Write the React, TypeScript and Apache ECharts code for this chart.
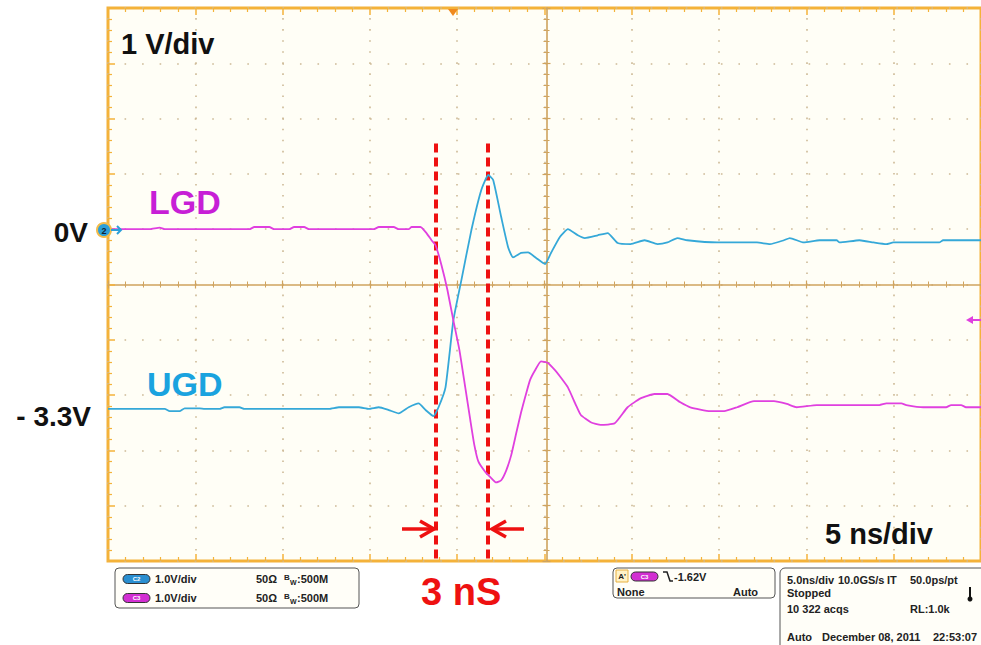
import React, { useEffect, useRef } from "react";
import * as echarts from "echarts";

// Axis ranges (time in ns, 5 ns/div; voltage in V, 1 V/div)
const X_MIN = 0;
const X_MAX = 50;
const X_DIV = 5;
const Y_MIN = -6;
const Y_MAX = 4;
const Y_DIV = 1;

// LGD trace (magenta): [time ns, volts]
const lgdPoints: [number, number][] = [
  [0, 0], [2.39, 0], [2.96, 0.03], [3.25, 0], [8.1, 0], [8.38, 0.04], [9.24, 0.04], [9.52, 0],
  [10.38, 0], [10.66, 0.04], [11.23, 0.04], [11.52, 0], [15.22, 0], [15.51, 0.04], [16.36, 0.04],
  [16.65, 0], [17.22, 0], [17.39, 0.04], [17.9, 0.04], [18.24, -0.07], [18.53, -0.2], [18.76, -0.29],
  [19.1, -0.65], [19.44, -1.1], [19.78, -1.65], [20.13, -2.19], [20.47, -2.88], [20.75, -3.45],
  [20.98, -3.9], [21.21, -4.2], [21.61, -4.39], [21.95, -4.5], [22.23, -4.58], [22.52, -4.54],
  [22.81, -4.36], [23.09, -4.09], [23.38, -3.69], [23.66, -3.31], [23.89, -3.04], [24.17, -2.73],
  [24.46, -2.55], [24.8, -2.39], [25.2, -2.42], [25.6, -2.55], [25.88, -2.66], [26.34, -2.86],
  [26.8, -3.18], [27.08, -3.36], [27.65, -3.49], [28.22, -3.54], [29.02, -3.51], [29.76, -3.22],
  [30.5, -3.06], [31.3, -2.98], [32.04, -2.98], [32.78, -3.13], [33.35, -3.22], [34.49, -3.29],
  [35.29, -3.29], [36.03, -3.22], [37.0, -3.11], [38.14, -3.11], [38.88, -3.16], [39.45, -3.22],
  [40.59, -3.18], [44.18, -3.18], [44.58, -3.15], [45.44, -3.15], [45.72, -3.18], [46.69, -3.22],
  [48.0, -3.22], [48.29, -3.18], [48.86, -3.18], [49.14, -3.22], [50, -3.22],
];

// UGD trace (blue): [time ns, volts]
const ugdPoints: [number, number][] = [
  [0, -3.25], [3.25, -3.25], [3.53, -3.29], [4.1, -3.29], [4.39, -3.24], [5.25, -3.24], [5.53, -3.25],
  [6.39, -3.25], [6.67, -3.22], [7.53, -3.22], [7.81, -3.25], [12.66, -3.25], [13.23, -3.22],
  [14.37, -3.22], [14.94, -3.25], [15.51, -3.22], [16.08, -3.27], [16.65, -3.33], [17.22, -3.22],
  [17.79, -3.15], [18.19, -3.27], [18.64, -3.38], [18.93, -3.22], [19.33, -2.86], [19.78, -1.65],
  [20.24, -0.92], [20.81, -0.02], [21.38, 0.71], [21.78, 0.98], [22.06, 0.89], [22.52, 0.22],
  [22.92, -0.33], [23.2, -0.51], [23.66, -0.43], [24.06, -0.42], [24.52, -0.52], [25.03, -0.63],
  [25.37, -0.43], [25.88, -0.14], [26.34, 0], [26.91, -0.11], [27.31, -0.16], [28.05, -0.11],
  [28.62, -0.07], [29.19, -0.25], [29.93, -0.27], [30.73, -0.2], [31.47, -0.27], [32.04, -0.24],
  [32.61, -0.16], [33.18, -0.2], [34.89, -0.24], [37.17, -0.24], [37.91, -0.27], [38.71, -0.2],
  [39.05, -0.16], [39.85, -0.24], [40.76, -0.2], [41.73, -0.2], [41.9, -0.24], [43.04, -0.2],
  [43.84, -0.24], [44.58, -0.27], [44.98, -0.24], [47.61, -0.24], [47.83, -0.2], [50, -0.2],
];

// Timing cursors (ns) and their vertical extent (V)
const cursorTimes = [18.76, 21.75];
const cursorTop = 1.55;

// Center of the graticule
const centerTime = 25;
const centerVolt = -1;

const FONT = '"Liberation Sans", Arial, Helvetica, sans-serif';

const ORANGE = "#F4B23A";
const TAN = "#CFA35E";
const DOT = "#CDB996";
const LGD_COLOR = "#E040DF";
const UGD_COLOR = "#35A8D8";
const INFO = 11;

function App() {
  const ref = useRef<HTMLDivElement>(null);

  useEffect(() => {
    if (!ref.current) return;
    const chart = echarts.init(ref.current, null, { renderer: "svg" });

    const gridLeft = 108;
    const gridTop = 8;
    const gridW = 877;
    const gridH = 553;
    const centerOffsetY = -(gridH * (centerVolt - Y_MIN)) / (Y_MAX - Y_MIN);
    const centerOffsetX = -(gridW * (centerTime - X_MIN)) / (X_MAX - X_MIN);

    const baseX = {
      type: "value" as const,
      min: X_MIN,
      max: X_MAX,
      interval: X_DIV,
      axisLabel: { show: false },
      splitLine: { show: false },
    };
    const baseY = {
      type: "value" as const,
      min: Y_MIN,
      max: Y_MAX,
      interval: Y_DIV,
      axisLabel: { show: false },
      splitLine: { show: false },
    };

    const text = (t: string, x: number, y: number, size: number, fill: string, align = "left", weight = "bold") => ({
      type: "text",
      x,
      y,
      z: 100,
      style: {
        text: t,
        fill,
        font: `${weight} ${size}px ${FONT}`,
        textAlign: align,
        textVerticalAlign: "middle",
      },
    });

    const pill = (x: number, y: number, fill: string, label: string) => [
      {
        type: "rect",
        z: 100,
        shape: { x, y, width: 27, height: 9, r: 4.5 },
        style: { fill, stroke: "#333", lineWidth: 1 },
      },
      text(label, x + 13.5, y + 4.8, 6, "#fff", "center"),
    ];

    const bw = (x: number, y: number) => [
      text("B", x, y - 2, 8, "#222"),
      text("W", x + 6, y + 3, 7, "#222"),
      text(":500M", x + 13, y, INFO, "#222"),
    ];

    const graphics: any[] = [
      // trigger marker
      { type: "polygon", z: 100, shape: { points: [[448, 9], [458, 9], [453, 16]] }, style: { fill: "#F08A1E" } },
      // channel 2 ground marker
      { type: "circle", z: 100, shape: { cx: 104, cy: 230, r: 7 }, style: { fill: "#2B9FD9", stroke: "#F2BB4B", lineWidth: 2 } },
      text("2", 104, 230.5, 9, "#123", "center"),
      { type: "line", z: 100, shape: { x1: 111, y1: 230, x2: 121, y2: 230 }, style: { stroke: "#2B9FD9", lineWidth: 2 } },
      { type: "polyline", z: 100, shape: { points: [[117, 226], [121, 230], [117, 234]] }, style: { stroke: "#2B9FD9", lineWidth: 2, fill: "none" } },
      // channel 3 offscreen marker (right)
      { type: "line", z: 100, shape: { x1: 968, y1: 320, x2: 985, y2: 320 }, style: { stroke: LGD_COLOR, lineWidth: 2 } },
      { type: "polygon", z: 100, shape: { points: [[966, 320], [973, 316], [973, 324]] }, style: { fill: LGD_COLOR } },

      // labels
      text("1 V/div", 121, 44, 29, "#111"),
      text("LGD", 149, 202, 34, "#C71FD6"),
      text("UGD", 147, 384, 34, "#1AA3DF"),
      text("0V", 88, 232, 28, "#111", "right"),
      text("- 3.3V", 91, 416, 28, "#111", "right"),
      text("5 ns/div", 825, 534, 29, "#111"),
      text("3 nS", 421, 592, 38, "#EE1111"),

      // red arrows
      { type: "line", z: 100, shape: { x1: 402, y1: 529, x2: 433, y2: 529 }, style: { stroke: "#EE1111", lineWidth: 3.5 } },
      { type: "polyline", z: 100, shape: { points: [[420, 521], [434, 529], [420, 537]] }, style: { stroke: "#EE1111", lineWidth: 3.5, fill: "none" } },
      { type: "line", z: 100, shape: { x1: 524, y1: 529, x2: 493, y2: 529 }, style: { stroke: "#EE1111", lineWidth: 3.5 } },
      { type: "polyline", z: 100, shape: { points: [[506, 521], [492, 529], [506, 537]] }, style: { stroke: "#EE1111", lineWidth: 3.5, fill: "none" } },

      // info box 1
      { type: "rect", z: 99, shape: { x: 115, y: 568, width: 244, height: 40, r: 4 }, style: { fill: "#FFFEF8", stroke: "#555", lineWidth: 1 } },
      ...pill(123, 574.5, "#2A8FD0", "C2"),
      ...pill(123, 593.5, "#D22FD2", "C3"),
      text("1.0V/div", 155, 579, INFO, "#222"),
      text("1.0V/div", 155, 598, INFO, "#222"),
      text("50Ω", 256, 579, INFO, "#222"),
      text("50Ω", 256, 598, INFO, "#222"),
      ...bw(284, 579),
      ...bw(284, 598),

      // info box 2 (trigger)
      { type: "rect", z: 99, shape: { x: 613, y: 568, width: 162, height: 30, r: 4 }, style: { fill: "#FFFEF8", stroke: "#555", lineWidth: 1 } },
      { type: "rect", z: 100, shape: { x: 616, y: 570, width: 12, height: 12 }, style: { fill: "#FFF3C8", stroke: "#E8B040", lineWidth: 1 } },
      text("A'", 622, 576.5, 8, "#222", "center"),
      ...pill(631, 572, "#D22FD2", "C3"),
      { type: "polyline", z: 100, shape: { points: [[663, 572], [667, 572], [670, 581], [673, 581]] }, style: { stroke: "#222", lineWidth: 1.5, fill: "none" } },
      text("-1.62V", 674, 577, INFO, "#222"),
      text("None", 617, 592, INFO, "#222"),
      text("Auto", 733, 592, INFO, "#222"),

      // info box 3 (acquisition)
      { type: "rect", z: 99, shape: { x: 780, y: 568, width: 215, height: 95, r: 5 }, style: { fill: "#FFFEF8", stroke: "#555", lineWidth: 1 } },
      text("5.0ns/div", 787, 580, INFO, "#222"),
      text("10.0GS/s", 838, 580, INFO, "#222"),
      text("IT", 887, 580, INFO, "#222"),
      text("50.0ps/pt", 910, 580, INFO, "#222"),
      text("Stopped", 787, 593, INFO, "#222"),
      text("10 322 acqs", 787, 609, INFO, "#222"),
      text("RL:1.0k", 910, 609, INFO, "#222"),
      text("Auto", 787, 637, INFO, "#222"),
      text("December 08, 2011", 822, 637, INFO, "#222"),
      text("22:53:07", 933, 637, INFO, "#222"),
      { type: "line", z: 100, shape: { x1: 970, y1: 587, x2: 970, y2: 598 }, style: { stroke: "#111", lineWidth: 2 } },
      { type: "circle", z: 100, shape: { cx: 970, cy: 599, r: 2.5 }, style: { fill: "#111" } },
    ];

    const borderTick = { show: true, inside: true, length: 7, lineStyle: { color: ORANGE, width: 1.5 } };
    const borderMinor = { show: true, splitNumber: 5, length: 4, lineStyle: { color: ORANGE, width: 1.2 } };
    const centerTick = (inside: boolean) => ({ show: true, inside, length: 4, lineStyle: { color: TAN, width: 1.2 } });
    const centerMinor = { show: true, splitNumber: 5, length: 3, lineStyle: { color: TAN, width: 1 } };

    const option: any = {
      animation: false,
      backgroundColor: "#ffffff",
      grid: {
        left: gridLeft,
        top: gridTop,
        width: gridW,
        height: gridH,
        show: true,
        backgroundColor: "#FFFEF6",
        borderColor: ORANGE,
        borderWidth: 3,
      },
      xAxis: [
        {
          ...baseX,
          position: "bottom",
          axisLine: { show: false, onZero: false },
          axisTick: borderTick,
          minorTick: borderMinor,
          splitLine: {
            show: true,
            lineStyle: { color: DOT, width: 1.6, type: [1.6, 9.46], dashOffset: 0.8 },
          },
        },
        {
          ...baseX,
          position: "top",
          axisLine: { show: false, onZero: false },
          axisTick: borderTick,
          minorTick: borderMinor,
        },
        {
          ...baseX,
          position: "bottom",
          offset: centerOffsetY,
          axisLine: { show: true, onZero: false, lineStyle: { color: TAN, width: 1.6 } },
          axisTick: centerTick(true),
          minorTick: centerMinor,
        },
        {
          ...baseX,
          position: "bottom",
          offset: centerOffsetY,
          axisLine: { show: false, onZero: false },
          axisTick: centerTick(false),
          minorTick: centerMinor,
        },
      ],
      yAxis: [
        {
          ...baseY,
          position: "left",
          axisLine: { show: false, onZero: false },
          axisTick: borderTick,
          minorTick: borderMinor,
          splitLine: {
            show: true,
            lineStyle: { color: DOT, width: 1.6, type: [1.6, 15.94], dashOffset: 0.8 },
          },
        },
        {
          ...baseY,
          position: "left",
          offset: centerOffsetX,
          axisLine: { show: true, onZero: false, lineStyle: { color: TAN, width: 1.6 } },
          axisTick: centerTick(true),
          minorTick: centerMinor,
        },
        {
          ...baseY,
          position: "left",
          offset: centerOffsetX,
          axisLine: { show: false, onZero: false },
          axisTick: centerTick(false),
          minorTick: centerMinor,
        },
      ],
      series: [
        {
          name: "UGD",
          type: "line",
          data: ugdPoints,
          showSymbol: false,
          smooth: 0.15,
          lineStyle: { color: UGD_COLOR, width: 1.8 },
          z: 5,
        },
        {
          name: "LGD",
          type: "line",
          data: lgdPoints,
          showSymbol: false,
          smooth: 0.15,
          lineStyle: { color: LGD_COLOR, width: 1.8 },
          z: 6,
          markLine: {
            silent: true,
            symbol: ["none", "none"],
            label: { show: false },
            lineStyle: { color: "#EE1111", width: 4, type: [9, 5] },
            data: cursorTimes.map((t) => [
              { coord: [t, cursorTop] },
              { coord: [t, Y_MIN] },
            ]),
          },
        },
      ],
      graphic: graphics,
    };

    chart.setOption(option);
    return () => chart.dispose();
  }, []);

  return (
    <div
      ref={ref}
      style={{ position: "fixed", left: 0, top: 0, width: 981, height: 645, background: "#fff" }}
    />
  );
}

export default App;
